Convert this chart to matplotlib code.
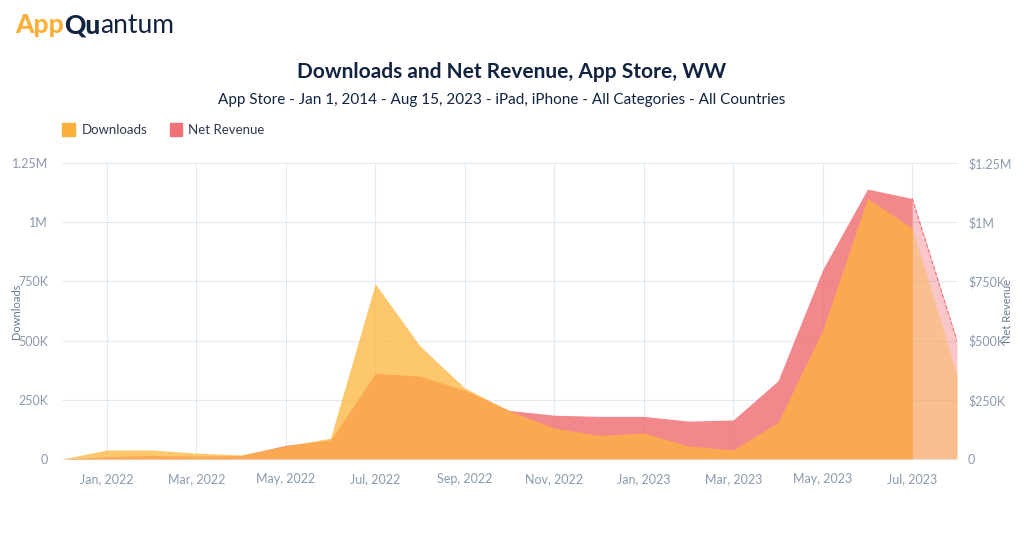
import numpy as np
import matplotlib.pyplot as plt
from matplotlib.ticker import FuncFormatter

months = ["Dec 2021", "Jan 2022", "Feb 2022", "Mar 2022", "Apr 2022", "May 2022", "Jun 2022",
          "Jul 2022", "Aug 2022", "Sep 2022", "Oct 2022", "Nov 2022", "Dec 2022", "Jan 2023",
          "Feb 2023", "Mar 2023", "Apr 2023", "May 2023", "Jun 2023", "Jul 2023", "Aug 2023"]
downloads = [0, 38e3, 38e3, 25e3, 17e3, 55e3, 88e3, 740e3, 477e3, 300e3, 203e3, 130e3, 100e3,
             110e3, 55e3, 38e3, 155e3, 545e3, 1100e3, 975e3, 355e3]
revenue = [0, 10e3, 15e3, 12e3, 15e3, 58e3, 80e3, 362e3, 350e3, 290e3, 205e3, 185e3, 180e3,
           180e3, 160e3, 165e3, 330e3, 800e3, 1140e3, 1100e3, 500e3]
tick_labels = ["Jan, 2022", "Mar, 2022", "May, 2022", "Jul, 2022", "Sep, 2022", "Nov, 2022",
               "Jan, 2023", "Mar, 2023", "May, 2023", "Jul, 2023"]

plt.rcParams['font.family'] = ['Lato', 'DejaVu Sans']
x = np.arange(len(months))
d = np.array(downloads)
r = np.array(revenue)
n = len(x) - 1  # last point is partial month

fig = plt.figure(figsize=(10.24, 5.4), dpi=100)
ax = fig.add_axes([62/1024, 81/540, 895/1024, 296/540])

RED = '#f07278'
YEL = '#fdb53c'
ax.fill_between(x[:n], r[:n], color=RED, alpha=0.85, lw=0, zorder=2)
ax.fill_between(x[n-1:], r[n-1:], color=RED, alpha=0.4, lw=0, zorder=2)
ax.plot(x[n-1:], r[n-1:], color=RED, ls='--', lw=0.8, zorder=4)
ax.fill_between(x[:n], d[:n], color=YEL, alpha=0.75, lw=0, zorder=3)
ax.fill_between(x[n-1:], d[n-1:], color=YEL, alpha=0.4, lw=0, zorder=3)

ax.set_xlim(0, n)
ax.set_ylim(0, 1.25e6)
ax.set_xticks(x[1::2])
ax.set_xticklabels(tick_labels)
ax.set_yticks([0, 250e3, 500e3, 750e3, 1e6, 1.25e6])
ax.yaxis.set_major_formatter(FuncFormatter(
    lambda v, p: "0" if v == 0 else (f"{v/1e6:g}M" if v >= 1e6 else f"{v/1e3:g}K")))
ax.grid(True, color='#d4e2ee', lw=0.8, ls=(0, (1, 0.5)), zorder=0)
for s in ax.spines.values():
    s.set_visible(False)
ax.axhline(0, color='#c9d6e2', lw=1, zorder=5)
ax.tick_params(length=0, colors='#8a99ad', labelsize=9, pad=10)
ax.set_ylabel("Downloads", color='#6b7a8f', fontsize=8)
ax.yaxis.set_label_coords(-0.045, 0.5)

ax2 = ax.twinx()
ax2.set_ylim(0, 1.25e6)
ax2.set_yticks([0, 250e3, 500e3, 750e3, 1e6, 1.25e6])
ax2.yaxis.set_major_formatter(FuncFormatter(
    lambda v, p: "0" if v == 0 else (f"${v/1e6:g}M" if v >= 1e6 else f"${v/1e3:g}K")))
for s in ax2.spines.values():
    s.set_visible(False)
ax2.tick_params(length=0, colors='#8a99ad', labelsize=9, pad=8)
ax2.set_ylabel("Net Revenue", color='#6b7a8f', fontsize=8)
ax2.yaxis.set_label_coords(1.05, 0.5)

# logo, pieces placed one after another
renderer = fig.canvas.get_renderer()
xpos = 0.015
for txt, col, wt in [("App", '#fbb03b', 'black'), ("Qu", '#12233f', 'black'), ("antum", '#12233f', 'normal')]:
    t = fig.text(xpos, 0.953, txt, color=col, fontsize=19, fontweight=wt, va='center')
    bb = t.get_window_extent(renderer)
    xpos += bb.width / fig.bbox.width

fig.text(0.5, 0.855, "Downloads and Net Revenue, App Store, WW", ha='center',
         color='#12233f', fontsize=15, fontweight='bold')
fig.text(0.49, 0.807, "App Store - Jan 1, 2014 - Aug 15, 2023 - iPad, iPhone - All Categories - All Countries",
         ha='center', color='#12233f', fontsize=11)

fig.patches.append(plt.Rectangle((0.061, 0.748), 0.012, 0.024, color='#fbb03b', transform=fig.transFigure))
fig.text(0.08, 0.76, "Downloads", color='#2d3a4f', fontsize=9.5, va='center')
fig.patches.append(plt.Rectangle((0.166, 0.748), 0.012, 0.024, color='#f07278', transform=fig.transFigure))
fig.text(0.184, 0.76, "Net Revenue", color='#2d3a4f', fontsize=9.5, va='center')

fig.savefig("out.png", dpi=100, facecolor='white')
